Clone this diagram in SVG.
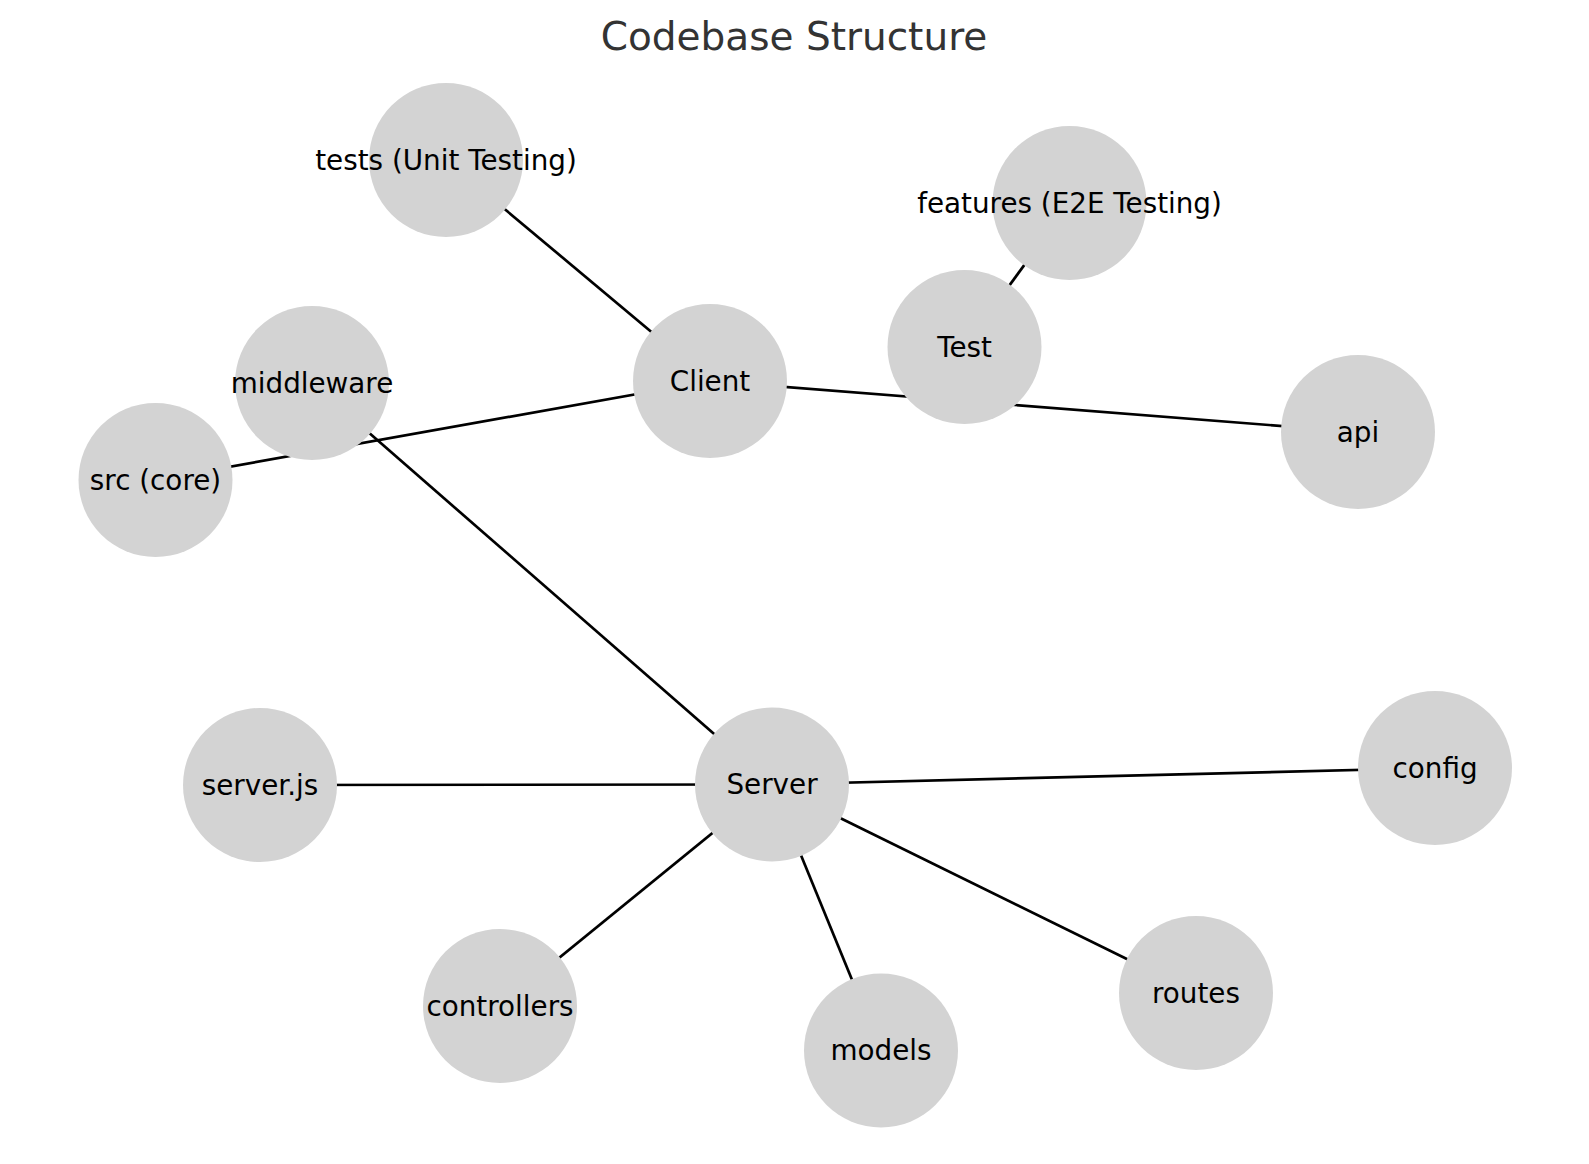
<svg xmlns="http://www.w3.org/2000/svg" width="1589" height="1164" viewBox="0 0 1589 1164">
<style>
.node circle{fill:#d3d3d3;stroke:none}
.node text{font-family:"DejaVu Sans",sans-serif;font-size:27.8px;fill:#000;text-anchor:middle}
#edges line{stroke:#000;stroke-width:2.7}
.title{font-family:"DejaVu Sans",sans-serif;font-size:39px;fill:#333;text-anchor:middle}
</style>
<rect width="1589" height="1164" fill="#fff"/>
<text class="title" x="794" y="50">Codebase Structure</text>
<g id="edges">
<line x1="710" y1="381" x2="446" y2="160"/>
<line x1="710" y1="381" x2="155.5" y2="480"/>
<line x1="710" y1="381" x2="1358" y2="432"/>
<line x1="964.5" y1="347" x2="1069.5" y2="203"/>
<line x1="312" y1="383" x2="772" y2="784.5"/>
<line x1="772" y1="784.5" x2="260" y2="785"/>
<line x1="772" y1="784.5" x2="1435" y2="768"/>
<line x1="772" y1="784.5" x2="500" y2="1006"/>
<line x1="772" y1="784.5" x2="881" y2="1050.5"/>
<line x1="772" y1="784.5" x2="1196" y2="993"/>
</g>
<g id="node-tests" class="node"><circle cx="446" cy="160" r="77"/><text x="446" y="169.5">tests (Unit Testing)</text></g>
<g id="node-features" class="node"><circle cx="1069.5" cy="203" r="77"/><text x="1069.5" y="212.5">features (E2E Testing)</text></g>
<g id="node-test" class="node"><circle cx="964.5" cy="347" r="77"/><text x="964.5" y="356.5">Test</text></g>
<g id="node-client" class="node"><circle cx="710" cy="381" r="77"/><text x="710" y="390.5">Client</text></g>
<g id="node-middleware" class="node"><circle cx="312" cy="383" r="77"/><text x="312" y="392.5">middleware</text></g>
<g id="node-src" class="node"><circle cx="155.5" cy="480" r="77"/><text x="155.5" y="489.5">src (core)</text></g>
<g id="node-api" class="node"><circle cx="1358" cy="432" r="77"/><text x="1358" y="441.5">api</text></g>
<g id="node-serverjs" class="node"><circle cx="260" cy="785" r="77"/><text x="260" y="794.5">server.js</text></g>
<g id="node-server" class="node"><circle cx="772" cy="784.5" r="77"/><text x="772" y="794">Server</text></g>
<g id="node-config" class="node"><circle cx="1435" cy="768" r="77"/><text x="1435" y="777.5">config</text></g>
<g id="node-controllers" class="node"><circle cx="500" cy="1006" r="77"/><text x="500" y="1015.5">controllers</text></g>
<g id="node-models" class="node"><circle cx="881" cy="1050.5" r="77"/><text x="881" y="1060">models</text></g>
<g id="node-routes" class="node"><circle cx="1196" cy="993" r="77"/><text x="1196" y="1002.5">routes</text></g>
</svg>
